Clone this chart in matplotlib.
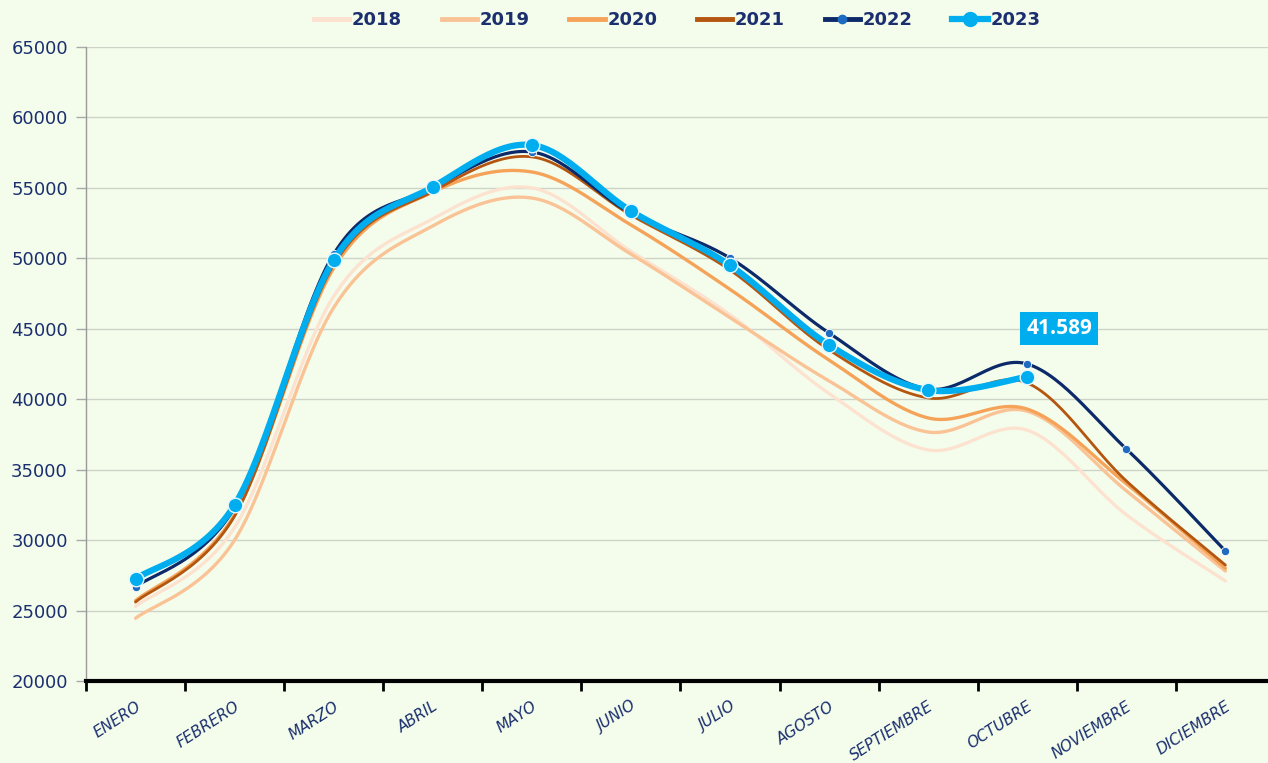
import numpy as np
import matplotlib
matplotlib.use("Agg")
import matplotlib.pyplot as plt
from matplotlib.lines import Line2D

months = ["ENERO", "FEBRERO", "MARZO", "ABRIL", "MAYO", "JUNIO", "JULIO",
          "AGOSTO", "SEPTIEMBRE", "OCTUBRE", "NOVIEMBRE", "DICIEMBRE"]

y2018 = [25300, 30900, 47300, 52800, 55000, 50500, 46000, 40400, 36400, 37800, 31800, 27100]
y2019 = [24450, 30000, 46500, 52300, 54280, 50300, 45800, 41300, 37670, 39150, 33500, 27800]
y2020 = [25700, 31800, 49300, 54700, 56130, 52370, 47800, 42780, 38670, 39300, 34000, 28000]
y2021 = [25600, 31700, 49530, 54750, 57200, 53070, 49170, 43500, 40090, 41150, 34200, 28230]
y2022 = [26670, 32300, 50300, 55000, 57550, 53200, 50020, 44700, 40720, 42500, 36470, 29230]
y2023 = [27240, 32490, 49880, 55060, 58040, 53360, 49500, 43850, 40650, 41589]

yticks = list(range(20000, 65001, 5000))
label_2023 = "41.589"

BG = "#F4FDEC"
NAVY_TXT = "#1B2F6E"

def smooth(xs, ys, n=30):
    """Excel-like smoothed line: cubic Bezier with Catmull-Rom control points."""
    xs = np.asarray(xs, float); ys = np.asarray(ys, float)
    P = np.column_stack([xs, ys])
    out = []
    m = len(P)
    for i in range(m - 1):
        p0 = P[i - 1] if i > 0 else P[i]
        p1 = P[i]; p2 = P[i + 1]
        p3 = P[i + 2] if i + 2 < m else P[i + 1]
        c1 = p1 + (p2 - p0) / 6.0
        c2 = p2 - (p3 - p1) / 6.0
        t = np.linspace(0, 1, n)[:, None]
        seg = ((1 - t) ** 3) * p1 + 3 * ((1 - t) ** 2) * t * c1 + 3 * (1 - t) * t ** 2 * c2 + t ** 3 * p2
        if i > 0:
            seg = seg[1:]
        out.append(seg)
    S = np.vstack(out)
    return S[:, 0], S[:, 1]

fig = plt.figure(figsize=(12.68, 7.63), dpi=100, facecolor=BG)
ax = fig.add_axes([0.0678, 0.1075, 0.9322, 0.8309], facecolor=BG)

x = np.arange(len(months))

series = [
    ("2018", y2018, "#FDE2D0", 2.4),
    ("2019", y2019, "#FAC396", 2.4),
    ("2020", y2020, "#F6A35A", 2.4),
    ("2021", y2021, "#B4560F", 2.0),
]
handles = []
for name, ys, col, lw in series:
    xs_, ys_ = smooth(x[:len(ys)], ys)
    ax.plot(xs_, ys_, color=col, lw=lw, solid_capstyle="round", zorder=3)
    handles.append(Line2D([], [], color=col, lw=3.5, label=name))

# 2022
xs_, ys_ = smooth(x, y2022)
ax.plot(xs_, ys_, color="#0C2A69", lw=2.3, zorder=4)
ax.plot(x, y2022, ls="none", marker="o", ms=6, mfc="#1E6BC0", mec="white", mew=0.6, zorder=5)
handles.append(Line2D([], [], color="#0C2A69", lw=3.5, marker="o", ms=6, mfc="#1E6BC0", mec="#1E6BC0", label="2022"))

# 2023
x23 = x[:len(y2023)]
xs_, ys_ = smooth(x23, y2023)
ax.plot(xs_, ys_, color="#00AEEF", lw=4.5, solid_capstyle="round", zorder=6)
ax.plot(x23, y2023, ls="none", marker="o", ms=10.5, mfc="#00AEEF", mec="#E6F7FF", mew=1.0, zorder=7)
handles.append(Line2D([], [], color="#00AEEF", lw=4.5, marker="o", ms=10, mfc="#00AEEF", mec="#00AEEF", label="2023"))

# data label
ax.annotate(label_2023, xy=(x23[-1], y2023[-1]), xytext=(32 * 0.72, 48 * 0.72), textcoords="offset points",
            ha="center", va="center", fontsize=15, fontweight="bold", color="white",
            family="Open Sans",
            bbox=dict(boxstyle="square,pad=0.28", fc="#00AEEF", ec="none"), zorder=8)

ax.set_ylim(20000, 65000)
ax.set_xlim(-0.5, 11.43)
ax.set_yticks(yticks)
ax.set_yticklabels([str(v) for v in yticks], fontsize=13, color=NAVY_TXT, family="DejaVu Sans")
ax.grid(axis="y", color="#CDD3C8", lw=1.0, zorder=0)
ax.set_axisbelow(True)

ax.set_xticks(x)
ax.set_xticklabels(months, rotation=33, ha="right", rotation_mode="anchor",
                   fontsize=11, style="italic", color=NAVY_TXT, family="DejaVu Sans")
ax.tick_params(axis="x", length=0, pad=13)
ax.set_xticks(np.arange(-0.5, 11.5, 1.0), minor=True)
ax.tick_params(axis="x", which="minor", length=7, width=2, color="black", direction="out")
ax.tick_params(axis="y", length=7, width=1, color="#AAAAAA", pad=6)

for s in ["top", "right"]:
    ax.spines[s].set_visible(False)
ax.spines["left"].set_color("#9A9A9A")
ax.spines["left"].set_linewidth(1.0)
ax.spines["bottom"].set_color("black")
ax.spines["bottom"].set_linewidth(3)

leg = fig.legend(handles=handles, loc="center", bbox_to_anchor=(0.534, 0.974), ncol=6,
                 frameon=False, handlelength=1.95, handletextpad=0.15, columnspacing=2.2,
                 prop=dict(family="DejaVu Sans", weight="bold", size=13))
for t in leg.get_texts():
    t.set_color(NAVY_TXT)

fig.savefig("out.png", dpi=100, facecolor=BG)
